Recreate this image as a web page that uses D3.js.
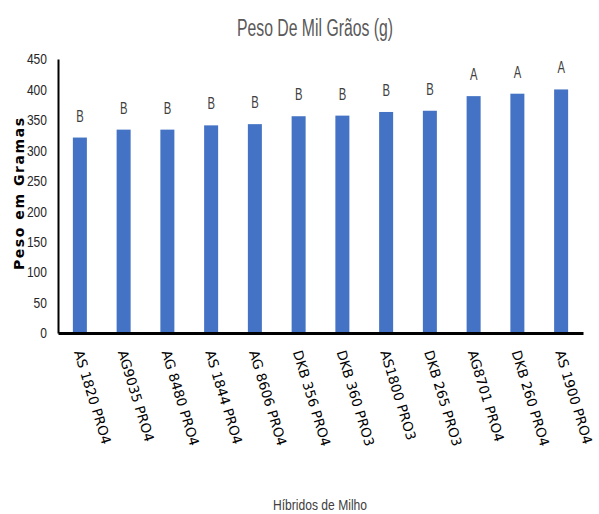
<!DOCTYPE html>
<html>
<head>
<meta charset="utf-8">
<script src="https://cdn.jsdelivr.net/npm/d3@7"></script>
<style>
  body { margin: 0; background: #fff; }
  svg { display: block; }
</style>
</head>
<body>
<svg id="chart" width="599" height="514"></svg>
<script>
// values
const hybrids = ["AS 1820 PRO4", "AG9035 PRO4", "AG 8480 PRO4", "AS 1844 PRO4", "AG 8606 PRO4",
  "DKB 356 PRO4", "DKB 360 PRO3", "AS1800 PRO3", "DKB 265 PRO3", "AG8701 PRO4", "DKB 260 PRO4", "AS 1900 PRO4"];
const weights = [321, 334, 334, 341, 343, 356, 357, 363, 365, 389, 393, 400];
const groups = ["B", "B", "B", "B", "B", "B", "B", "B", "B", "A", "A", "A"];
const yTicks = [0, 50, 100, 150, 200, 250, 300, 350, 400, 450];

// no condensed font installed, so squeeze Liberation Sans with textLength
const narrow = "'Liberation Sans', Arial, sans-serif";
const svg = d3.select("#chart");

const x = d3.scaleBand().domain(hybrids).range([58, 583]).paddingInner(0.68).paddingOuter(0.34);
const y = d3.scaleLinear().domain([0, 450]).range([333, 59]);

svg.append("text")
  .attr("x", 315).attr("y", 36)
  .attr("text-anchor", "middle")
  .attr("font-family", narrow).attr("font-size", 23)
  .attr("textLength", 156).attr("lengthAdjust", "spacingAndGlyphs")
  .attr("fill", "#595959")
  .text("Peso De Mil Grãos (g)");

// y axis
const yAxis = svg.append("g")
  .attr("transform", "translate(58,0)")
  .call(d3.axisLeft(y).tickValues(yTicks).tickSize(0).tickPadding(11));
yAxis.select(".domain").attr("stroke", "#000").attr("stroke-width", 2);
yAxis.selectAll("text")
  .attr("font-family", narrow).attr("font-size", 15)
  .attr("textLength", d => String(d).length * 6.7)
  .attr("lengthAdjust", "spacingAndGlyphs")
  .attr("fill", "#262626");

// bars
svg.selectAll("rect.bar")
  .data(weights)
  .join("rect")
  .attr("class", "bar")
  .attr("x", (d, i) => x(hybrids[i]))
  .attr("width", x.bandwidth())
  .attr("y", d => y(d))
  .attr("height", d => y(0) - y(d))
  .attr("fill", "#4472c4");

// group letters
svg.selectAll("text.grp")
  .data(groups)
  .join("text")
  .attr("class", "grp")
  .attr("x", (d, i) => x(hybrids[i]) + x.bandwidth() / 2)
  .attr("y", (d, i) => y(weights[i]) - 16)
  .attr("text-anchor", "middle")
  .attr("font-family", narrow).attr("font-size", 16)
  .attr("textLength", 7.5).attr("lengthAdjust", "spacingAndGlyphs")
  .attr("fill", "#404040")
  .text(d => d);

// x axis
const xAxis = svg.append("g")
  .attr("transform", "translate(0,333)")
  .call(d3.axisBottom(x).tickSize(0).tickSizeOuter(0).tickPadding(0));
xAxis.select(".domain").attr("stroke", "#000").attr("stroke-width", 3);
xAxis.selectAll("text")
  .attr("font-family", "'DejaVu Sans', Verdana, sans-serif")
  .attr("font-size", 13.5)
  .attr("fill", "#000")
  .attr("text-anchor", "start")
  .attr("dy", 0)
  .attr("transform", "translate(-6,19) rotate(73)");

svg.append("text")
  .attr("transform", "translate(24,194) rotate(-90)")
  .attr("text-anchor", "middle")
  .attr("font-family", "'DejaVu Sans', Verdana, sans-serif")
  .attr("font-size", 14).attr("font-weight", "bold")
  .attr("textLength", 152).attr("lengthAdjust", "spacing")
  .attr("fill", "#000")
  .text("Peso em Gramas");

svg.append("text")
  .attr("x", 320).attr("y", 510)
  .attr("text-anchor", "middle")
  .attr("font-family", narrow).attr("font-size", 15)
  .attr("textLength", 94).attr("lengthAdjust", "spacingAndGlyphs")
  .attr("fill", "#404040")
  .text("Híbridos de Milho");
</script>
</body>
</html>
